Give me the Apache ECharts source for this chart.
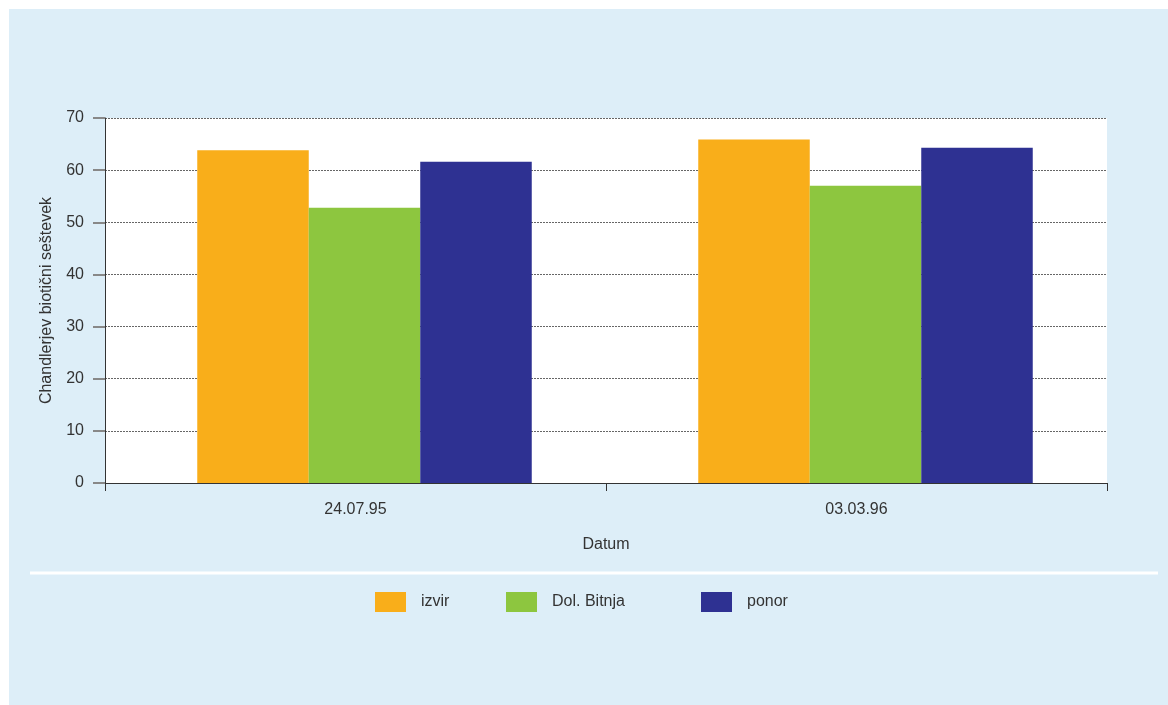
<!DOCTYPE html>
<html>
<head>
<meta charset="utf-8">
<script src="https://cdn.jsdelivr.net/npm/echarts@6/dist/echarts.min.js"></script>
<style>
  html, body { margin: 0; padding: 0; background: #ffffff; }
  #chart { position: absolute; left: 9px; top: 9px; width: 1159px; height: 696px; background: #ddeef8; }
</style>
</head>
<body>
<div id="chart"></div>
<script>
var dates = ['24.07.95', '03.03.96'];
var izvir = [63.8, 65.9];
var dolBitnja = [52.8, 57.0];
var ponor = [61.6, 64.3];
var spacer = [0, 0];
var yTicks = [0, 10, 20, 30, 40, 50, 60, 70];

var myChart = echarts.init(document.getElementById('chart'));
var font = 'Liberation Sans, Arial, sans-serif';

var legendBase = {
  top: 578,
  itemWidth: 31,
  itemHeight: 20,
  icon: 'rect',
  selectedMode: false,
  textStyle: { fontFamily: font, fontSize: 16, color: '#333', padding: [0, 0, 0, 10] }
};

var option = {
  animation: false,
  textStyle: { fontFamily: font },
  grid: { left: 96, top: 109, right: 61, bottom: 222, show: true, backgroundColor: '#ffffff', borderWidth: 0 },
  legend: [
    Object.assign({}, legendBase, { left: 361, data: ['izvir'] }),
    Object.assign({}, legendBase, { left: 492, data: ['Dol. Bitnja'] }),
    Object.assign({}, legendBase, { left: 687, data: ['ponor'] })
  ],
  graphic: [{
    type: 'line',
    shape: { x1: 21, y1: 564, x2: 1149, y2: 564 },
    style: { stroke: '#ffffff', lineWidth: 3 }
  }],
  xAxis: {
    type: 'category',
    data: dates,
    name: 'Datum',
    nameLocation: 'middle',
    nameGap: 54,
    nameTextStyle: { fontFamily: font, fontSize: 16, color: '#333' },
    axisLine: { lineStyle: { color: '#333', width: 1 } },
    axisTick: { show: true, length: 8, lineStyle: { color: '#333' } },
    axisLabel: { fontFamily: font, fontSize: 16, color: '#333', margin: 19 },
    splitLine: { show: false }
  },
  yAxis: {
    type: 'value',
    min: yTicks[0],
    max: yTicks[yTicks.length - 1],
    interval: 10,
    name: 'Chandlerjev biotični seštevek',
    nameLocation: 'middle',
    nameGap: 50,
    nameTextStyle: { fontFamily: font, fontSize: 16, color: '#333' },
    axisLine: { show: true, lineStyle: { color: '#333', width: 1 } },
    axisTick: { show: true, length: 12, lineStyle: { color: '#888', width: 2 } },
    axisLabel: { fontFamily: font, fontSize: 16, color: '#333', margin: 21 },
    splitLine: { show: true, lineStyle: { color: '#666', type: [2, 1], width: 1 } }
  },
  series: [
    // invisible spacer: the source chart's bar groups sit a little right of centre
    { name: 'spacer', type: 'bar', data: spacer, barWidth: 18, barGap: 0, silent: true, itemStyle: { color: 'transparent' } },
    { name: 'izvir', type: 'bar', data: izvir, barWidth: 111.5, itemStyle: { color: '#f9ae1a' } },
    { name: 'Dol. Bitnja', type: 'bar', data: dolBitnja, barWidth: 111.5, itemStyle: { color: '#8dc63f' } },
    { name: 'ponor', type: 'bar', data: ponor, barWidth: 111.5, itemStyle: { color: '#2e3192' } }
  ]
};

myChart.setOption(option);
</script>
</body>
</html>
